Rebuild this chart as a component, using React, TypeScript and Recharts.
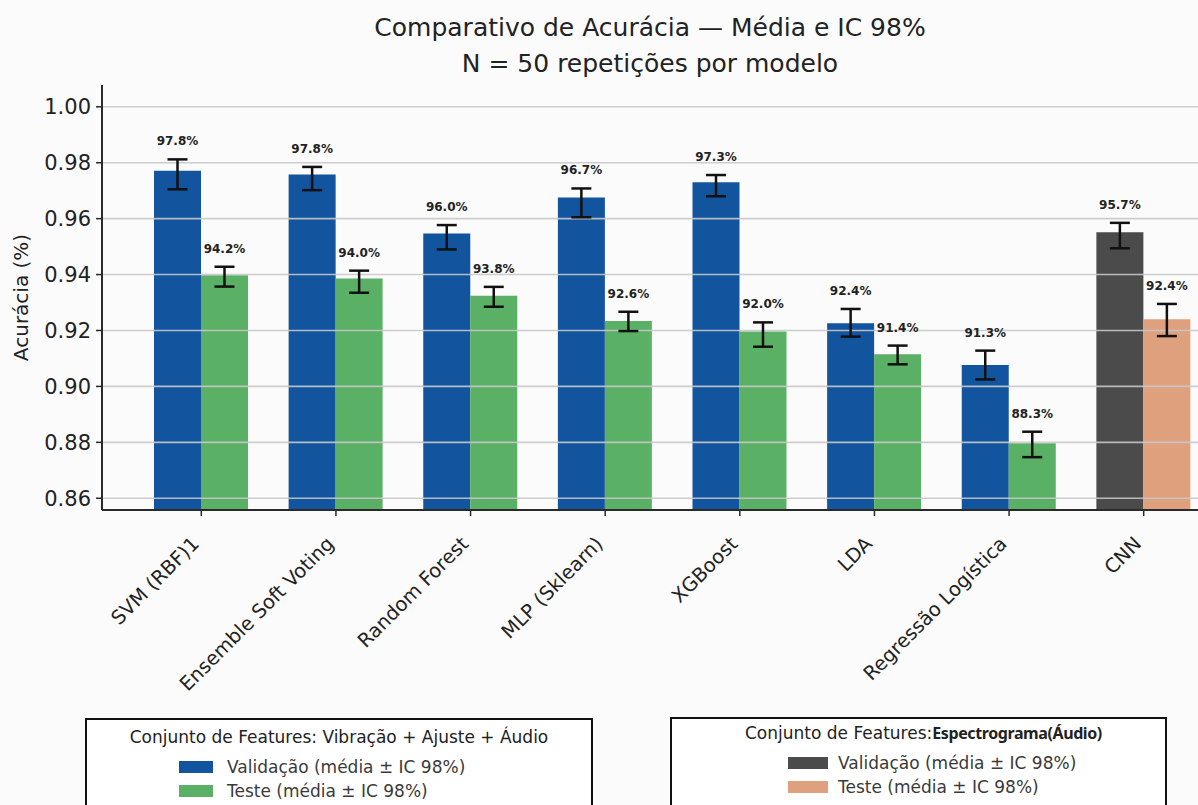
import React from "react";
import { BarChart, Bar, XAxis, YAxis, ErrorBar, LabelList, Cell, CartesianGrid } from "recharts";

const FONT = "'DejaVu Sans', sans-serif";

const models = [
  "SVM (RBF)1",
  "Ensemble Soft Voting",
  "Random Forest",
  "MLP (Sklearn)",
  "XGBoost",
  "LDA",
  "Regressão Logística",
  "CNN",
];
// which feature set each model used (last one is the spectrogram CNN)
const featureSet = ["tab", "tab", "tab", "tab", "tab", "tab", "tab", "spec"];

const valMean = [0.9771, 0.9758, 0.9547, 0.9676, 0.973, 0.9226, 0.9077, 0.9551];
const valLow = [0.9705, 0.9702, 0.949, 0.9605, 0.968, 0.9178, 0.9025, 0.9494];
const valHigh = [0.9812, 0.9785, 0.9577, 0.9708, 0.9756, 0.9277, 0.9128, 0.9585];

const testMean = [0.9398, 0.9386, 0.9324, 0.9234, 0.9196, 0.9115, 0.8797, 0.924];
const testLow = [0.9357, 0.9335, 0.9285, 0.9198, 0.9142, 0.9079, 0.8747, 0.918];
const testHigh = [0.9428, 0.9414, 0.9356, 0.9267, 0.9229, 0.9146, 0.8838, 0.9295];

const valLabels = ["97.8%", "97.8%", "96.0%", "96.7%", "97.3%", "92.4%", "91.3%", "95.7%"];
const testLabels = ["94.2%", "94.0%", "93.8%", "92.6%", "92.0%", "91.4%", "88.3%", "92.4%"];

const yTicks = [0.86, 0.88, 0.9, 0.92, 0.94, 0.96, 0.98, 1.0];
const Y_DOMAIN: [number, number] = [0.8558, 1.0078];

const BLUE = "#13549e";
const GREEN = "#5ab064";
const GRAY = "#4b4b4b";
const SALMON = "#dfa07d";
const AXIS = "#2a2a2a";

const data = models.map((model, i) => ({
  model,
  val: valMean[i],
  test: testMean[i],
  valErr: [valMean[i] - valLow[i], valHigh[i] - valMean[i]],
  testErr: [testMean[i] - testLow[i], testHigh[i] - testMean[i]],
}));

// value label sits a bit above the top of the error bar
const makeLabel = (texts: string[], means: number[], highs: number[]) => (p: any) => {
  const vb = p.viewBox ?? p;
  const x = Number(vb.x ?? p.x);
  const y = Number(vb.y ?? p.y);
  const w = Number(vb.width ?? p.width);
  const h = Number(vb.height ?? p.height);
  const i = p.index;
  const v = means[i];
  const pxPer = h / (v - Y_DOMAIN[0]);
  const top = y - (highs[i] - v) * pxPer;
  return (
    <text
      x={x + w / 2}
      y={top - 18}
      textAnchor="middle"
      dominantBaseline="central"
      fontSize={12}
      fontWeight="bold"
      fill="#222"
      fontFamily={FONT}
    >
      {texts[i]}
    </text>
  );
};

const XTick = ({ x, y, payload }: any) => {
  const tx = x - 1;
  const ty = y + 27;
  return (
    <text
      x={tx}
      y={ty}
      transform={`rotate(-45 ${tx} ${ty})`}
      textAnchor="end"
      fontSize={19.5}
      fill="#222"
      fontFamily={FONT}
    >
      {payload.value}
    </text>
  );
};

const YLabel = ({ viewBox }: any) => {
  const cx = 21;
  const cy = viewBox.y + viewBox.height / 2;
  return (
    <text
      x={cx}
      y={cy}
      transform={`rotate(-90 ${cx} ${cy})`}
      textAnchor="middle"
      dominantBaseline="central"
      fontSize={20}
      fill="#222"
      fontFamily={FONT}
    >
      Acurácia (%)
    </text>
  );
};

type Item = { color: string; label: string };

const LegendBox = ({
  left, top, width, title, titleLeft, titleTop, swatchLeft, swatchWidth, textLeft, rowTops, items,
}: {
  left: number; top: number; width: number; title: React.ReactNode; titleLeft?: number; titleTop: number;
  swatchLeft: number; swatchWidth: number; textLeft: number; rowTops: number[]; items: Item[];
}) => (
  <>
    <div
      style={{
        position: "absolute", left, top, width, height: 110,
        border: "2px solid #111", boxSizing: "border-box", background: "#fff",
      }}
    />
    <div
      style={{
        position: "absolute",
        left: titleLeft ?? left,
        width: titleLeft == null ? width : undefined,
        top: titleTop,
        textAlign: titleLeft == null ? "center" : "left",
        fontSize: 17, lineHeight: "22px", color: "#222", whiteSpace: "nowrap",
      }}
    >
      {title}
    </div>
    {items.map((it, k) => (
      <React.Fragment key={it.label}>
        <div
          style={{
            position: "absolute", left: swatchLeft, top: rowTops[k] + 5,
            width: swatchWidth, height: 12, background: it.color,
          }}
        />
        <div
          style={{
            position: "absolute", left: textLeft, top: rowTops[k],
            fontSize: 17, lineHeight: "22px", color: "#3a3a3a", whiteSpace: "nowrap",
          }}
        >
          {it.label}
        </div>
      </React.Fragment>
    ))}
  </>
);

// both layers share the exact same geometry
const chartProps = {
  width: 1240,
  height: 805,
  data,
  margin: { top: 85, right: 0, bottom: 95, left: 0 },
  barCategoryGap: 20,
  barGap: 0,
};
const xProps = { dataKey: "model", height: 200, interval: 0 as const, padding: { left: 32, right: 29 } };
const yProps = { width: 102, domain: Y_DOMAIN, ticks: yTicks, allowDataOverflow: true, interval: 0 as const };

export default function App() {
  return (
    <div
      style={{
        position: "absolute", left: 0, top: 0, width: 1198, height: 805,
        overflow: "hidden", background: "#fbfbfb", fontFamily: FONT,
      }}
    >
      <div
        style={{
          position: "absolute", left: 350, width: 600, top: 10, textAlign: "center",
          fontSize: 25, lineHeight: "36px", color: "#222",
        }}
      >
        <div>Comparativo de Acurácia — Média e IC 98%</div>
        <div>N = 50 repetições por modelo</div>
      </div>

      {/* layer 1: filled bars only */}
      <BarChart {...chartProps} style={{ position: "absolute", left: 0, top: 0 }}>
        <XAxis {...xProps} tick={false} tickLine={false} axisLine={false} />
        <YAxis {...yProps} tick={false} tickLine={false} axisLine={false} />
        <Bar dataKey="val" fill={BLUE} isAnimationActive={false}>
          {data.map((d, i) => (
            <Cell key={d.model} fill={featureSet[i] === "spec" ? GRAY : BLUE} />
          ))}
        </Bar>
        <Bar dataKey="test" fill={GREEN} isAnimationActive={false}>
          {data.map((d, i) => (
            <Cell key={d.model} fill={featureSet[i] === "spec" ? SALMON : GREEN} />
          ))}
        </Bar>
      </BarChart>

      {/* layer 2: grid over the bars, axes, error bars and value labels */}
      <BarChart {...chartProps} style={{ position: "absolute", left: 0, top: 0 }}>
        <CartesianGrid
          vertical={false}
          horizontalValues={yTicks}
          stroke="#c8c8c8"
          strokeWidth={1.6}
          strokeOpacity={0.9}
        />
        <XAxis
          {...xProps}
          tick={<XTick />}
          tickLine={{ stroke: AXIS, strokeWidth: 1.5 }}
          axisLine={{ stroke: AXIS, strokeWidth: 2 }}
        />
        <XAxis
          xAxisId="top"
          dataKey="model"
          orientation="top"
          height={0}
          tick={false}
          tickLine={false}
          axisLine={{ stroke: AXIS, strokeWidth: 2 }}
        />
        <YAxis
          {...yProps}
          tickFormatter={(v: number) => v.toFixed(2)}
          tick={{ fontSize: 21, fill: "#222", fontFamily: FONT }}
          tickLine={{ stroke: AXIS, strokeWidth: 1.5 }}
          tickSize={6}
          tickMargin={5}
          axisLine={{ stroke: AXIS, strokeWidth: 2 }}
          label={<YLabel />}
        />
        <Bar dataKey="val" fill="none" fillOpacity={0} isAnimationActive={false}>
          <ErrorBar dataKey="valErr" width={10} strokeWidth={2.5} stroke="#111" />
          <LabelList content={makeLabel(valLabels, valMean, valHigh)} />
        </Bar>
        <Bar dataKey="test" fill="none" fillOpacity={0} isAnimationActive={false}>
          <ErrorBar dataKey="testErr" width={10} strokeWidth={2.5} stroke="#111" />
          <LabelList content={makeLabel(testLabels, testMean, testHigh)} />
        </Bar>
      </BarChart>

      <LegendBox
        left={85}
        top={718}
        width={508}
        title="Conjunto de Features: Vibração + Ajuste + Áudio"
        titleTop={726}
        swatchLeft={179}
        swatchWidth={34}
        textLeft={227}
        rowTops={[756, 780]}
        items={[
          { color: BLUE, label: "Validação (média ± IC 98%)" },
          { color: GREEN, label: "Teste (média ± IC 98%)" },
        ]}
      />
      <LegendBox
        left={670}
        top={717}
        width={497}
        title={
          <>
            Conjunto de Features:
            <span style={{ fontFamily: "'Noto Sans', sans-serif", fontWeight: 700, fontSize: 16, letterSpacing: -0.4 }}>
              Espectrograma(Áudio)
            </span>
          </>
        }
        titleLeft={745}
        titleTop={722}
        swatchLeft={788}
        swatchWidth={40}
        textLeft={838}
        rowTops={[752, 776]}
        items={[
          { color: GRAY, label: "Validação (média ± IC 98%)" },
          { color: SALMON, label: "Teste (média ± IC 98%)" },
        ]}
      />
    </div>
  );
}
